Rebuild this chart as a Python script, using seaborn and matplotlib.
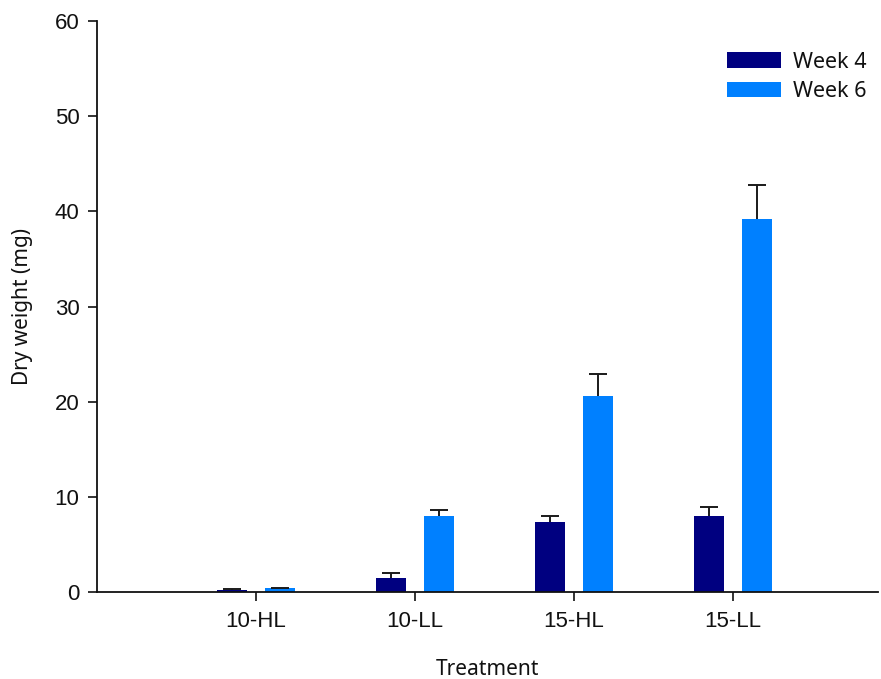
import matplotlib
matplotlib.use("Agg")
import matplotlib.pyplot as plt
import seaborn as sns
import pandas as pd

# Dry weight per treatment at two harvest dates (mean and upper SE)
treatments = ["10-HL", "10-LL", "15-HL", "15-LL"]
weeks = ["Week 4", "Week 6"]
week4_mean = [0.2, 1.45, 7.35, 8.0]
week4_err = [0.08, 0.58, 0.65, 0.95]
week6_mean = [0.4, 8.0, 20.6, 39.25]
week6_err = [0.08, 0.62, 2.3, 3.5]
colors = ["#000080", "#0080FF"]
y_ticks = [0, 10, 20, 30, 40, 50, 60]

df = pd.DataFrame({
    "Treatment": treatments * 2,
    "Week": [weeks[0]] * 4 + [weeks[1]] * 4,
    "Dry weight": week4_mean + week6_mean,
})
errors = {weeks[0]: week4_err, weeks[1]: week6_err}

sns.set_theme(style="ticks")
plt.rcParams["font.family"] = ["Liberation Sans", "DejaVu Sans"]

fig = plt.figure(figsize=(8.81, 6.79), dpi=100)
ax = fig.add_axes([0.110, 0.128, 0.8866, 0.841])

sns.barplot(data=df, x="Treatment", y="Dry weight", hue="Week",
            order=treatments, hue_order=weeks, palette=colors,
            width=0.604, gap=0.39, errorbar=None, linewidth=0,
            saturation=1, ax=ax)

bar_groups = list(ax.containers)

# upward-only error bars placed on the drawn bars
for container, wk in zip(bar_groups, weeks):
    for patch, err in zip(container.patches, errors[wk]):
        xc = patch.get_x() + patch.get_width() / 2
        h = patch.get_height()
        _, caps, _ = ax.errorbar(xc, h, yerr=[[0], [err]], fmt="none",
                                 ecolor="#1a1a1a", elinewidth=1.4,
                                 capsize=6.5, capthick=1.4, zorder=3)
        # keep only the top cap
        caps[0].set_visible(False)

ax.set_xlim(-1.0, 3.912)
ax.set_ylim(0, 60)
ax.set_yticks(y_ticks)
ax.set_yticklabels([str(t) for t in y_ticks])

sns.despine(ax=ax)
for side in ["left", "bottom"]:
    ax.spines[side].set_linewidth(1.3)
    ax.spines[side].set_color("#111111")

ax.tick_params(axis="both", direction="out", length=6.5, width=1.2,
               color="#111111", labelsize=16, labelcolor="#111111")
ax.tick_params(axis="y", pad=6)
ax.tick_params(axis="x", pad=7)

label_font = dict(family=["Noto Sans", "DejaVu Sans"], size=15, color="#111111")
ax.set_xlabel("Treatment", **label_font)
ax.set_ylabel("Dry weight (mg)", **label_font)
ax.xaxis.set_label_coords(0.5, -0.118)
ax.yaxis.set_label_coords(-0.082, 0.5)

if ax.get_legend() is not None:
    ax.get_legend().remove()
handles = [c.patches[0] for c in bar_groups]
leg = ax.legend(handles, weeks, loc="upper right", bbox_to_anchor=(1.010, 0.98),
                frameon=False, handlelength=2.5, handleheight=0.76,
                handletextpad=0.57, labelspacing=0.38,
                prop=dict(family=["Noto Sans", "DejaVu Sans"], size=15.5))
for t in leg.get_texts():
    t.set_color("#111111")

fig.savefig("out.png", dpi=100, facecolor="white")
